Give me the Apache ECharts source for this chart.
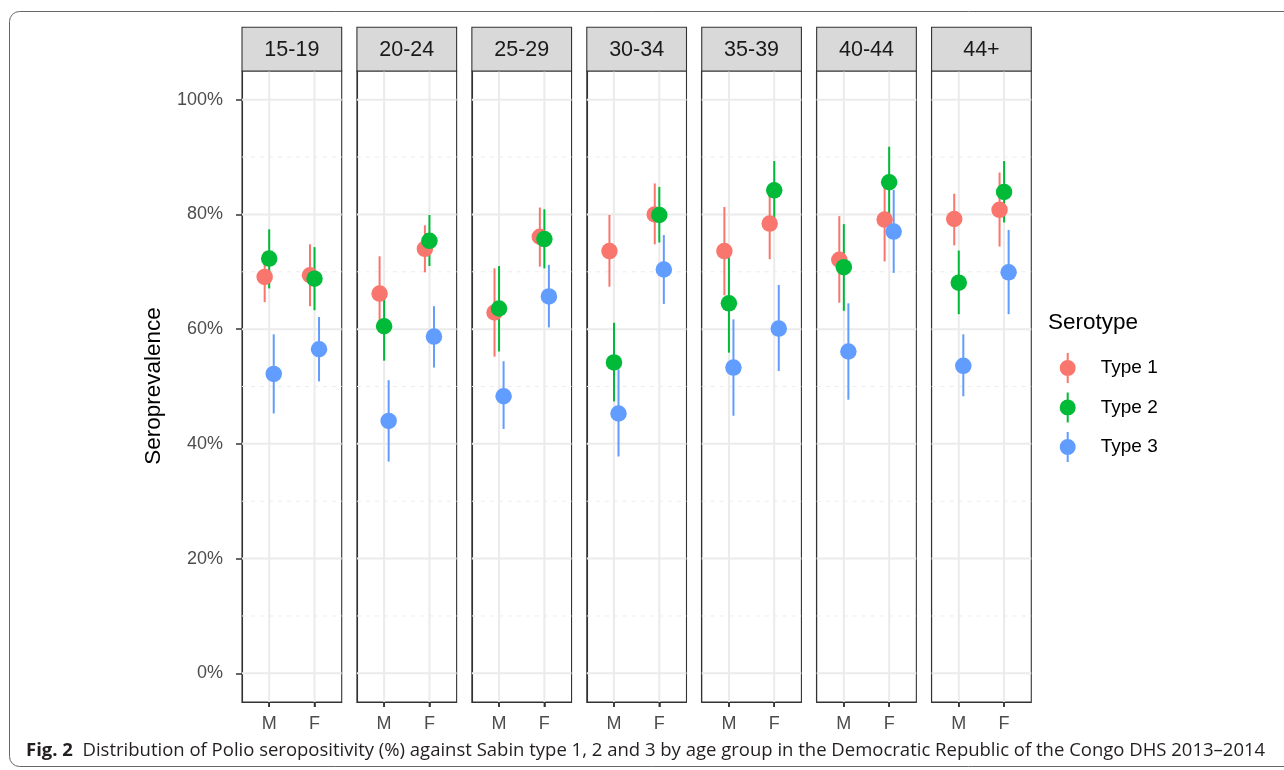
<!DOCTYPE html>
<html>
<head>
<meta charset="utf-8">
<script src="https://cdn.jsdelivr.net/npm/echarts@6/dist/echarts.min.js"></script>
<style>
html,body{margin:0;padding:0;background:#fff;}
#chart{width:1284px;height:770px;}
</style>
</head>
<body>
<div id="chart"></div>
<script>
// ---------- data ----------
const ageGroups = ['15-19', '20-24', '25-29', '30-34', '35-39', '40-44', '44+'];
const sexes = ['M', 'F'];
const types = ['Type 1', 'Type 2', 'Type 3'];
const yMajorTicks = [0, 20, 40, 60, 80, 100];
const yMinorTicks = [10, 30, 50, 70, 90];

// values ordered: age group x sex (M, F)
const type1Est = [69.1, 69.4, 66.2, 74.0, 62.9, 76.1, 73.6, 80.0, 73.6, 78.4, 72.1, 79.1, 79.2, 80.8];
const type1Lo  = [64.7, 64.0, 60.0, 69.9, 55.2, 70.9, 67.4, 74.8, 65.9, 72.2, 64.6, 71.8, 74.6, 74.4];
const type1Hi  = [73.5, 74.8, 72.7, 78.1, 70.6, 81.2, 79.9, 85.4, 81.3, 84.5, 79.7, 86.2, 83.6, 87.3];

const type2Est = [72.3, 68.8, 60.5, 75.4, 63.6, 75.7, 54.2, 79.9, 64.5, 84.2, 70.8, 85.6, 68.1, 83.9];
const type2Lo  = [67.1, 63.3, 54.5, 71.0, 56.1, 70.6, 47.4, 75.1, 55.9, 79.0, 63.2, 79.5, 62.6, 78.6];
const type2Hi  = [77.4, 74.3, 66.3, 79.9, 71.0, 80.9, 61.1, 84.8, 72.8, 89.3, 78.3, 91.8, 73.7, 89.3];

const type3Est = [52.2, 56.5, 44.0, 58.7, 48.3, 65.7, 45.3, 70.4, 53.3, 60.1, 56.1, 77.0, 53.6, 69.9];
const type3Lo  = [45.3, 50.9, 36.9, 53.3, 42.6, 60.3, 37.8, 64.4, 44.9, 52.7, 47.7, 69.8, 48.3, 62.6];
const type3Hi  = [59.1, 62.1, 51.1, 64.0, 54.4, 71.2, 53.0, 76.4, 61.7, 67.7, 64.5, 84.3, 59.1, 77.3];

const estimates = [type1Est, type2Est, type3Est];
const lowers = [type1Lo, type2Lo, type3Lo];
const uppers = [type1Hi, type2Hi, type3Hi];

// ---------- style / layout ----------
const colors = ['#F8766D', '#00BA38', '#619CFF'];
const FONT = 'Liberation Sans, Arial, sans-serif';
const CAP_FONT = '"Open Sans", sans-serif';
const DODGE_WIDTH = 0.3;
const L0 = 242, STEP = 114.93, PW = 99.7, PT = 71, PB_Y = 702;
const STRIP_TOP = 27.3, STRIP_H = 43.7;
const X_TICK_LEN = 5;

const chart = echarts.init(document.getElementById('chart'), null, {renderer: 'canvas'});

const grids = [], xAxes = [], yAxes = [], series = [], graphics = [];

ageGroups.forEach((g, i) => {
  const left = L0 + i * STEP;
  grids.push({
    left: left, top: PT, width: PW, height: PB_Y - PT,
    show: true, borderColor: '#333333', borderWidth: 1.1, backgroundColor: '#ffffff',
    containLabel: false, outerBoundsMode: 'none'
  });
  xAxes.push({
    gridIndex: i, type: 'value', min: 0.4, max: 2.6, position: 'bottom',
    axisLine: {show: true, onZero: false, lineStyle: {color: '#333333', width: 1.1}},
    splitLine: {show: false},
    axisTick: {show: true, inside: false, customValues: [1, 2], length: X_TICK_LEN, lineStyle: {color: '#333333', width: 1.5}},
    axisLabel: {show: true, customValues: [1, 2], formatter: v => sexes[Math.round(v) - 1],
      color: '#4d4d4d', fontSize: 18, fontFamily: FONT, margin: 13}
  });
  yAxes.push({
    gridIndex: i, type: 'value', min: -5, max: 105, position: 'left',
    axisLine: {show: true, onZero: false, lineStyle: {color: '#333333', width: 1.1}},
    splitLine: {show: false},
    axisTick: {show: i === 0, customValues: yMajorTicks, length: 6, lineStyle: {color: '#333333', width: 1.5}},
    axisLabel: {show: i === 0, customValues: yMajorTicks, formatter: '{value}%',
      color: '#4d4d4d', fontSize: 18, fontFamily: FONT, margin: 19}
  });

  // grid lines (kind 0: major y, 1: minor y, 2: major x, 3: x tick mark below panel)
  const gridData = []
    .concat(yMinorTicks.map(v => [1, v]))
    .concat(yMajorTicks.map(v => [0, v]))
    .concat(sexes.map((s, k) => [2, k + 1]))
    .concat(sexes.map((s, k) => [3, k + 1]));
  series.push({
    type: 'custom', xAxisIndex: i, yAxisIndex: i, z: 1, silent: true, clip: false,
    data: gridData,
    encode: {x: -1, y: -1},
    renderItem: (params, api) => {
      const kind = api.value(0), v = api.value(1);
      const cs = params.coordSys;
      if (kind === 3) {
        const x = api.coord([v, 50])[0];
        return {type: 'line', z2: 50, shape: {x1: x, y1: cs.y + cs.height, x2: x, y2: cs.y + cs.height + X_TICK_LEN},
          style: {stroke: '#333333', lineWidth: 1.5}};
      }
      if (kind === 2) {
        const x = api.coord([v, 50])[0];
        return {type: 'line', shape: {x1: x, y1: cs.y, x2: x, y2: cs.y + cs.height},
          style: {stroke: '#ebebeb', lineWidth: 2}};
      }
      const y = api.coord([1, v])[1];
      if (kind === 0) {
        return {type: 'line', shape: {x1: cs.x, y1: y, x2: cs.x + cs.width, y2: y},
          style: {stroke: '#ebebeb', lineWidth: 2}};
      }
      return {type: 'line', shape: {x1: cs.x, y1: y, x2: cs.x + cs.width, y2: y},
        style: {stroke: '#ececec', lineWidth: 1, lineDash: [4, 5]}};
    }
  });

  // error bars
  types.forEach((t, ti) => {
    const off = (ti - 1) * DODGE_WIDTH / 3;
    const barData = sexes.map((s, k) => {
      const idx = i * 2 + k;
      return [k + 1 + off, lowers[ti][idx], uppers[ti][idx]];
    });
    series.push({
      type: 'custom', name: t, xAxisIndex: i, yAxisIndex: i, z: 2, silent: true,
      data: barData, encode: {x: 0, y: [1, 2]},
      itemStyle: {color: colors[ti]},
      renderItem: (params, api) => {
        const p1 = api.coord([api.value(0), api.value(1)]);
        const p2 = api.coord([api.value(0), api.value(2)]);
        return {type: 'line', shape: {x1: p1[0], y1: p1[1], x2: p2[0], y2: p2[1]},
          style: {stroke: colors[ti], lineWidth: 2}};
      }
    });
  });
  // points
  types.forEach((t, ti) => {
    const off = (ti - 1) * DODGE_WIDTH / 3;
    const ptData = sexes.map((s, k) => [k + 1 + off, estimates[ti][i * 2 + k]]);
    series.push({
      type: 'scatter', name: t, xAxisIndex: i, yAxisIndex: i, z: 3 + ti, silent: true,
      data: ptData, symbol: 'circle', symbolSize: 16.5,
      itemStyle: {color: colors[ti], opacity: 1}
    });
  });

  // strip
  graphics.push({
    type: 'rect', shape: {x: left, y: STRIP_TOP, width: PW, height: STRIP_H},
    style: {fill: '#d9d9d9', stroke: '#333333', lineWidth: 1.1}, z: 10
  });
  graphics.push({
    type: 'text', x: left + PW / 2, y: STRIP_TOP + STRIP_H / 2 + 1, z: 11,
    style: {text: g, fill: '#1a1a1a', font: '21.5px ' + FONT, textAlign: 'center', textVerticalAlign: 'middle'}
  });
});

// outer frame
graphics.push({
  type: 'rect', shape: {x: 9.5, y: 11.5, width: 1300, height: 755, r: 10},
  style: {fill: 'none', stroke: '#666666', lineWidth: 1}, z: 0, silent: true
});
// y axis title
graphics.push({
  type: 'text', x: 154, y: 386, rotation: Math.PI / 2, z: 11,
  style: {text: 'Seroprevalence', fill: '#000000', font: '22.5px ' + FONT, textAlign: 'center', textVerticalAlign: 'middle'}
});
// legend title
graphics.push({
  type: 'text', x: 1048, y: 323, z: 11,
  style: {text: 'Serotype', fill: '#000000', font: '22.5px ' + FONT, textAlign: 'left', textVerticalAlign: 'middle'}
});
// caption
graphics.push({
  type: 'text', x: 26, y: 751, z: 11,
  style: {
    text: '{b|Fig. 2}{n|  Distribution of Polio seropositivity (%) against Sabin type 1, 2 and 3 by age group in the Democratic Republic of the Congo DHS 2013\u20132014}',
    fill: '#231f20', textAlign: 'left', textVerticalAlign: 'middle',
    rich: {
      b: {fontWeight: 'bold', fontSize: 18.5, fontFamily: CAP_FONT, fill: '#231f20'},
      n: {fontWeight: 'normal', fontSize: 18.5, fontFamily: CAP_FONT, fill: '#231f20'}
    }
  }
});

const legendIcon = 'path://M-1,-15 L1,-15 L1,15 L-1,15 Z M0,-8 A8,8 0 1,1 0,8 A8,8 0 1,1 0,-8 Z';

chart.setOption({
  backgroundColor: '#ffffff',
  animation: false,
  grid: grids,
  xAxis: xAxes,
  yAxis: yAxes,
  series: series,
  graphic: graphics,
  legend: {
    data: types.map((t, ti) => ({name: t, icon: legendIcon, itemStyle: {color: colors[ti]}})),
    orient: 'vertical', left: 1059.7, top: 353, padding: 0,
    itemWidth: 16, itemHeight: 31, itemGap: 9.5, symbolKeepAspect: true,
    selectedMode: false,
    textStyle: {fontSize: 19, color: '#000000', fontFamily: FONT, padding: [0, 0, 0, 20]}
  }
});
</script>
</body>
</html>
